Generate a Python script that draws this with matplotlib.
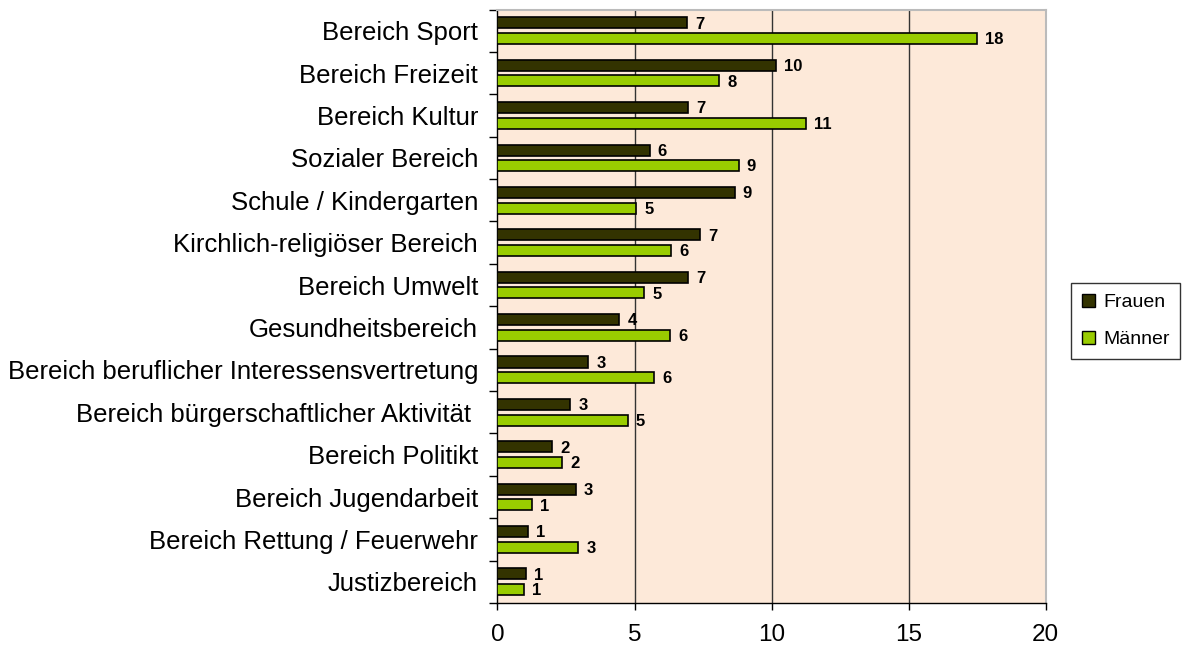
#!/usr/bin/env python3
import numpy as np
import matplotlib.pyplot as plt
from matplotlib.patches import Patch

plt.rcParams['font.family'] = ['Liberation Sans', 'DejaVu Sans']

# categories, top to bottom
categories = [
    "Bereich Sport",
    "Bereich Freizeit",
    "Bereich Kultur",
    "Sozialer Bereich",
    "Schule / Kindergarten",
    "Kirchlich-religiöser Bereich",
    "Bereich Umwelt",
    "Gesundheitsbereich",
    "Bereich beruflicher Interessensvertretung",
    "Bereich bürgerschaftlicher Aktivität ",
    "Bereich Politikt",
    "Bereich Jugendarbeit",
    "Bereich Rettung / Feuerwehr",
    "Justizbereich",
]
frauen = [6.9, 10.15, 6.95, 5.55, 8.65, 7.4, 6.95, 4.45, 3.3, 2.65, 2.0, 2.85, 1.1, 1.05]
maenner = [17.5, 8.1, 11.25, 8.8, 5.05, 6.35, 5.35, 6.3, 5.7, 4.75, 2.35, 1.25, 2.95, 0.95]
xticks = [0, 5, 10, 15, 20]

col_f = '#333300'
col_m = '#99CC00'
bg = '#FDE9D9'

W, H = 1183, 645
fig = plt.figure(figsize=(W / 100, H / 100), dpi=100)
ax = fig.add_axes([497.5 / W, (H - 603) / H, 548 / W, 593.5 / H])
ax.set_facecolor(bg)

n = len(categories)
y = np.arange(n)
off = 0.185
h = 0.26
bf = ax.barh(y - off, frauen, height=h, color=col_f, edgecolor='black', linewidth=1.2, zorder=3)
bm = ax.barh(y + off, maenner, height=h, color=col_m, edgecolor='black', linewidth=1.2, zorder=3)

for bars, vals in ((bf, frauen), (bm, maenner)):
    for b, v in zip(bars, vals):
        ax.text(v + 0.3, b.get_y() + b.get_height() / 2 + 0.03, f"{v:.0f}",
                ha='left', va='center', fontsize=12, fontweight='bold', zorder=4)

ax.set_xlim(0, 20)
ax.set_ylim(n - 0.5, -0.5)
ax.set_xticks(xticks)
ax.tick_params(axis='x', labelsize=17.5, length=5, width=1, direction='out', pad=10)

# category labels in centres, ticks on the boundaries
ax.set_yticks(y)
ax.set_yticklabels(categories)
ax.set_yticks(np.arange(n + 1) - 0.5, minor=True)
ax.tick_params(axis='y', which='major', length=0, labelsize=18.5, pad=14)
ax.tick_params(axis='y', which='minor', length=6, width=1, direction='out')

for xv in xticks[1:-1]:
    ax.axvline(xv, color='#333333', linewidth=1, zorder=1)

for s in ('top', 'right'):
    ax.spines[s].set_color('#BBBBBB')
    ax.spines[s].set_linewidth(1.5)
for s in ('left', 'bottom'):
    ax.spines[s].set_color('black')
    ax.spines[s].set_linewidth(1)

handles = [Patch(facecolor=col_f, edgecolor='black', label='Frauen'),
           Patch(facecolor=col_m, edgecolor='black', label='Männer')]
leg = fig.legend(handles=handles, loc='upper left', bbox_to_anchor=(1071 / W, 1 - 283 / H),
                 fontsize=14, frameon=True, fancybox=False, edgecolor='black',
                 handlelength=0.7, handleheight=0.7, handletextpad=0.4,
                 labelspacing=1.0, borderpad=0.55, borderaxespad=0)
leg.get_frame().set_linewidth(1)

fig.savefig('out.png', dpi=100)
